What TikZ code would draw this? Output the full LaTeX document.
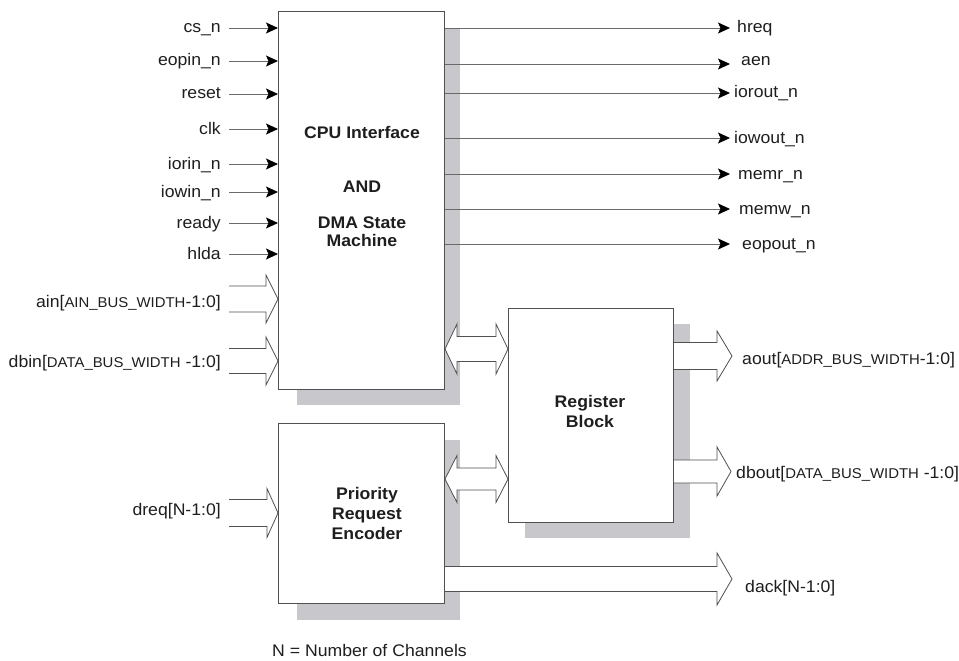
\documentclass[tikz,border=0pt]{standalone}
\usepackage{fontspec}
\setmainfont{Liberation Sans}[FakeStretch=1.05]
\usetikzlibrary{arrows.meta,calc}
\definecolor{shd}{HTML}{C8C8CC}
\definecolor{edge}{HTML}{505050}
\definecolor{txt}{HTML}{1E1E1E}
\definecolor{wire}{HTML}{6A6A6A}
\newcommand\fsA{\fontsize{16.8}{20}\selectfont}
\newcommand\fsB{\fontsize{14.2}{16}\selectfont}
% single-ended bus arrow: #1 start, #2 tip, #3 half shaft, #4 half head, #5 head length
\newcommand\busarrow[5]{%
  \draw[bus] let \p1=(#1), \p2=(#2) in
   ({\x1},{\y2+#3pt}) -- ({\x2-#5pt},{\y2+#3pt}) -- ({\x2-#5pt},{\y2+#4pt}) -- ({\x2},{\y2})
   -- ({\x2-#5pt},{\y2-#4pt}) -- ({\x2-#5pt},{\y2-#3pt}) -- ({\x1},{\y2-#3pt});}
% double-ended bus arrow: #1 left tip, #2 right tip
\newcommand\dbusarrow[5]{%
  \draw[bus] let \p1=(#1), \p2=(#2) in
   ({\x1},{\y1}) -- ({\x1+#5pt},{\y1+#4pt}) -- ({\x1+#5pt},{\y1+#3pt}) -- ({\x2-#5pt},{\y1+#3pt})
   -- ({\x2-#5pt},{\y1+#4pt}) -- ({\x2},{\y1}) -- ({\x2-#5pt},{\y1-#4pt}) -- ({\x2-#5pt},{\y1-#3pt})
   -- ({\x1+#5pt},{\y1-#3pt}) -- ({\x1+#5pt},{\y1-#4pt}) -- cycle;}
\begin{document}
\begin{tikzpicture}[x=1pt,y=-1pt,
  blk/.style={draw=edge, line width=1pt, fill=white, inner sep=0, anchor=north west},
  shadowc/.style={fill=shd},
  sig/.style={draw=wire, line width=0.9pt, -{Stealth[length=12pt,width=11pt,inset=2.5pt,color=black]}},
  bus/.style={draw=edge, line width=0.8pt, fill=white, line join=miter},
  lbl/.style={inner sep=0, text=txt, font=\fsA},
  btxt/.style={inner sep=0, text=txt, font=\fsA\bfseries, anchor=base}]
\fill[white] (0,0) rectangle (959,661);
\useasboundingbox (0,0) rectangle (959,661);

% shadows
\fill[shadowc] (297,28) rectangle (460,405);
\fill[shadowc] (297,440) rectangle (460,620);
\fill[shadowc] (525,324) rectangle (690,538);

% blocks
\node[blk, minimum width=166pt, minimum height=378pt] (cpu) at (278,11) {};
\node[blk, minimum width=166pt, minimum height=180pt] (prio) at (278,423) {};
\node[blk, minimum width=165pt, minimum height=214pt] (reg) at (508,308) {};

% block texts
\node[btxt] (t1) at (362,139) {CPU Interface};
\node[btxt] (t2) at (362,192) {AND};
\node[btxt] (t3) at (362,228) {DMA State};
\node[btxt] (t4) at (362,246) {Machine};
\node[btxt] (t5) at (590,407) {Register};
\node[btxt] (t6) at (590,427) {Block};
\node[btxt] (t7) at (367,499) {Priority};
\node[btxt] (t8) at (367,519) {Request};
\node[btxt] (t9) at (367,539) {Encoder};

% single inputs
\foreach \i/\t/\y in {1/cs\_n/28, 2/eopin\_n/61, 3/reset/94, 4/clk/129, 5/iorin\_n/164, 6/iowin\_n/192, 7/ready/223, 8/hlda/254}{
  \node[lbl, anchor=base east] (in\i) at (221,\y+5) {\t};
  \coordinate (inS\i) at (229,\y);
  \draw[sig] (inS\i) -- (inS\i -| cpu.west);
}

% single outputs
\foreach \i/\t/\y/\dx/\dy in {1/hreq/28/7/5, 2/aen/64/11/2, 3/iorout\_n/93/4/5, 4/iowout\_n/138/4/5, 5/memr\_n/174/8/5, 6/memw\_n/209/9/5, 7/eopout\_n/244/12/5}{
  \coordinate (outT\i) at (730,\y);
  \draw[sig] (cpu.east |- outT\i) -- (outT\i);
  \node[lbl, anchor=base west] (out\i) at (730+\dx,\y+\dy) {\t};
}

% bus inputs
\coordinate (ainS) at (229,299);
\busarrow{ainS}{ainS -| cpu.west}{13}{24}{12}
\node[lbl, anchor=base east] (ain) at (221,307) {ain[{\fsB AIN\_BUS\_WIDTH}-1:0]};

\coordinate (dbinS) at (229,361);
\busarrow{dbinS}{dbinS -| cpu.west}{12.5}{24}{12}
\node[lbl, anchor=base east] (dbin) at (221,367) {dbin[{\fsB DATA\_BUS\_WIDTH} -1:0]};

\coordinate (dreqS) at (229,513);
\busarrow{dreqS}{dreqS -| prio.west}{13.5}{24.5}{11}
\node[lbl, anchor=base east] (dreq) at (221,515) {dreq[N-1:0]};

% bus outputs
\coordinate (aoutT) at (732,356);
\busarrow{reg.east |- aoutT}{aoutT}{13.5}{25}{15}
\node[lbl, anchor=base west] (aout) at (742,364) {aout[{\fsB ADDR\_BUS\_WIDTH}-1:0]};

\coordinate (dboutT) at (731,471.5);
\busarrow{reg.east |- dboutT}{dboutT}{11.5}{24.5}{14}
\node[lbl, anchor=base west] (dbout) at (736,478) {dbout[{\fsB DATA\_BUS\_WIDTH} -1:0]};

\coordinate (dackT) at (732,579);
\busarrow{prio.east |- dackT}{dackT}{12.5}{26}{15}
\node[lbl, anchor=base west] (dack) at (745,592) {dack[N-1:0]};

% bidirectional buses
\coordinate (crY) at (0,349);
\dbusarrow{cpu.east |- crY}{reg.west |- crY}{12.5}{25}{12}
\coordinate (prY) at (0,479);
\dbusarrow{prio.east |- prY}{reg.west |- prY}{11}{23.5}{12}

% note
\node[lbl, anchor=base west] (note) at (272,656) {N = Number of Channels};
\end{tikzpicture}
\end{document}
